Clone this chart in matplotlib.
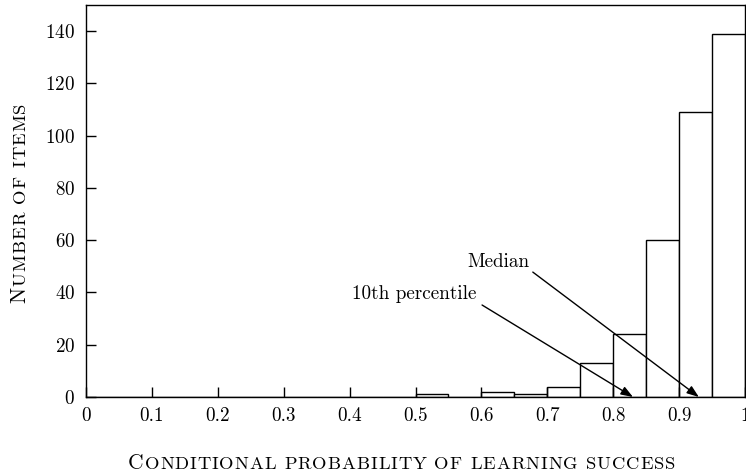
import numpy as np
import matplotlib
matplotlib.use("Agg")
import matplotlib.pyplot as plt

plt.rcParams['font.family'] = 'cmr10'
plt.rcParams['axes.formatter.use_mathtext'] = True

# histogram data, bins of width 0.05
bin_edges = np.round(np.arange(0, 1.0001, 0.05), 2)
counts = [0, 0, 0, 0, 0, 0, 0, 0, 0, 0,
          1, 0, 2, 1, 4, 13, 24, 60, 109, 139]

xticks = [0, 0.1, 0.2, 0.3, 0.4, 0.5, 0.6, 0.7, 0.8, 0.9, 1.0]
xticklabels = ["0", "0.1", "0.2", "0.3", "0.4", "0.5", "0.6", "0.7", "0.8", "0.9", "1"]
yticks = [0, 20, 40, 60, 80, 100, 120, 140]

p10 = 0.83
median = 0.93

FS = 13.8


def smallcaps(fig, x, y, text, size, length, ratio=0.86, vertical=False):
    # fake LaTeX \textsc: capitals full size, lowercase as smaller capitals,
    # letters spread out so the label spans `length` pixels
    r = fig.canvas.get_renderer()
    words = text.split(" ")
    space = 0.33 * size * fig.dpi / 72
    letters = []
    for i, word in enumerate(words):
        for j, ch in enumerate(word):
            t = fig.text(0, 0, ch.upper(),
                         fontsize=size if ch.isupper() else size * ratio,
                         ha='left', va='baseline', rotation_mode='anchor')
            w = t.get_window_extent(r).width
            letters.append((t, w, i > 0 and j == 0))
    n_gaps = len(letters) - 1
    used = sum(w for _, w, _ in letters) + space * (len(words) - 1)
    gap = (length - used) / n_gaps
    W, H = fig.bbox.width, fig.bbox.height
    pos = -length / 2
    for k, (t, w, new_word) in enumerate(letters):
        if k > 0:
            pos += gap
        if new_word:
            pos += space
        if vertical:
            t.set_rotation(90)
            t.set_position((x / W, (y + pos) / H))
        else:
            t.set_position(((x + pos) / W, y / H))
        pos += w


fig = plt.figure(figsize=(7.46, 4.75), dpi=100)
ax = fig.add_axes([86 / 746, 1 - 397 / 475, (745 - 86) / 746, (397 - 5) / 475])

ax.bar(bin_edges[:-1], counts, width=np.diff(bin_edges), align='edge',
       facecolor='white', edgecolor='black', linewidth=1.0)

ax.set_xlim(0, 1)
ax.set_ylim(0, 150)
ax.set_xticks(xticks)
ax.set_xticklabels(xticklabels)
ax.set_yticks(yticks)
ax.tick_params(direction='in', length=7, width=1.0, labelsize=FS,
               top=False, right=False)
ax.tick_params(axis='x', pad=7)
ax.tick_params(axis='y', pad=8)
for sp in ax.spines.values():
    sp.set_linewidth(1.0)

arrow = dict(arrowstyle='-|>,head_length=0.6,head_width=0.22', color='black',
             lw=1.0, mutation_scale=12, shrinkA=0, shrinkB=0)
ax.annotate('', xy=(median, 0), xytext=(0.678, 47.8), arrowprops=arrow)
ax.annotate('', xy=(p10, 0), xytext=(0.601, 35.2), arrowprops=arrow)
ax.text(0.626, 49.7, "Median", fontsize=FS, ha='center', va='baseline')
ax.text(0.498, 37.5, "10th percentile", fontsize=FS, ha='center', va='baseline')

smallcaps(fig, 401.5, 475 - 469, "Conditional probability of learning success", 15.5, 547)
smallcaps(fig, 25, 475 - 203, "Number of items", 15.5, 200, vertical=True)

fig.savefig("out.png", dpi=100)
